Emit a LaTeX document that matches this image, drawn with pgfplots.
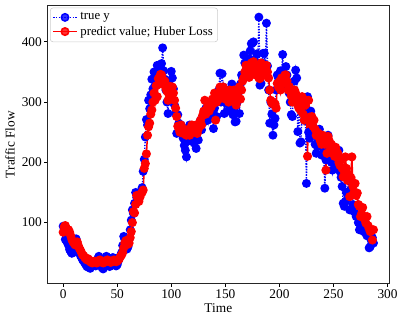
\documentclass[border=0pt]{standalone}
\usepackage{fontspec}
\setmainfont{Liberation Serif}
\usepackage{pgfplots}
\usepackage{pgfplotstable}
\pgfplotsset{compat=1.18}
\usetikzlibrary{calc}
\pgfplotstableread{
t y p
0 94 84
1 84 93
2 72 95
3 70 90
4 66 86
5 62 88
6 55 84
7 52 78
8 49 72
9 50 68
10 58 66
11 66 63
12 73 65
13 62 68
14 55 62
15 50 57
16 45 54
17 42 50
18 38 46
19 36 45
20 33 42
21 30 40
22 27 38
23 26 40
24 28 38
25 24 35
26 27 34
27 30 33
28 33 35
29 29 36
30 28 35
31 32 33
32 40 34
33 44 37
34 36 38
35 30 36
36 25 34
37 23 33
38 28 34
39 35 35
40 44 37
41 38 38
42 32 36
43 27 35
44 30 34
45 36 35
46 42 36
47 35 38
48 30 37
49 28 35
50 30 36
51 36 38
52 42 40
53 45 44
54 50 46
55 62 50
56 77 58
57 72 66
58 65 70
59 56 68
60 60 64
61 72 66
62 88 75
63 104 85
64 121 100
65 115 118
66 132 116
67 150 130
68 142 145
69 135 140
70 145 135
71 148 142
72 152 148
73 158 150
74 185 154
75 205 190
76 242 198
77 271 214
78 262 245
79 303 259
80 289 265
81 312 280
82 338 287
83 322 300
84 350 315
85 335 303
86 342 327
87 361 309
88 330 339
89 359 330
90 345 346
91 364 345
92 390 338
93 352 330
94 338 335
95 320 323
96 300 318
97 281 303
98 330 312
99 325 326
100 351 322
101 340 325
102 322 315
103 295 303
104 282 290
105 248 276
106 279 260
107 265 256
108 258 250
109 262 262
110 254 255
111 240 248
112 228 250
113 220 254
114 209 245
115 235 254
116 250 250
117 262 245
118 240 255
119 248 262
120 255 250
121 232 258
122 245 252
123 223 262
124 238 248
125 237 255
126 262 265
127 270 270
128 254 262
129 265 278
130 275 285
131 268 303
132 290 280
133 282 290
134 270 295
135 295 285
136 288 300
137 300 292
138 278 305
139 256 298
140 290 315
141 305 270
142 276 300
143 312 310
144 320 305
145 348 325
146 300 320
147 347 312
148 325 325
149 281 310
150 310 305
151 298 318
152 285 310
153 320 300
154 305 320
155 295 315
156 330 305
157 279 312
158 290 320
159 267 300
160 268 295
161 300 310
162 315 318
163 281 325
164 330 305
165 345 320
166 340 335
167 378 340
168 365 350
169 352 361
170 360 352
171 345 345
172 372 341
173 385 355
174 397 365
175 398 360
176 400 367
177 370 350
178 355 345
179 380 358
180 362 348
181 441 340
182 328 339
183 331 365
184 365 350
185 381 361
186 381 345
187 350 355
188 431 361
189 360 350
190 320 340
191 265 320
192 300 303
193 280 298
194 245 300
195 262 296
196 273 297
197 320 290
198 345 331
199 340 325
200 330 334
201 352 320
202 350 340
203 379 330
204 340 333
205 325 345
206 359 345
207 345 335
208 330 320
209 315 326
210 300 318
211 279 310
212 276 300
213 320 305
214 335 320
215 353 315
216 340 305
217 251 295
218 300 290
219 232 300
220 234 285
221 290 309
222 305 280
223 270 270
224 280 295
225 165 303
226 309 210
227 250 303
228 240 275
229 285 265
230 270 276
231 260 260
232 245 270
233 230 255
234 215 245
235 226 250
236 240 248
237 255 240
238 230 235
239 212 230
240 225 245
241 218 243
242 157 230
243 204 187
244 218 215
245 245 243
246 225 236
247 210 225
248 200 230
249 187 221
250 215 215
251 225 210
252 205 225
253 198 218
254 190 215
255 220 200
256 185 195
257 175 205
258 160 190
259 132 176
260 127 185
261 135 209
262 150 190
263 140 170
264 170 180
265 121 143
266 155 175
267 145 209
268 130 160
269 118 150
270 125 165
271 110 145
272 112 149
273 100 130
274 88 127
275 95 110
276 105 115
277 92 125
278 85 110
279 100 105
280 82 99
281 78 110
282 85 95
283 58 90
284 60 85
285 70 88
286 75 71
287 66 88
}\data
\begin{document}
\fontsize{9.6}{11.5}\selectfont
\begin{tikzpicture}
\begin{axis}[
  scale only axis,
  width=245.7pt, height=199.9pt,
  xmin=-14.35, xmax=301.35,
  ymin=-1, ymax=460,
  xtick={0,50,100,150,200,250,300},
  ytick={100,200,300,400},
  tick align=outside,
  xtick pos=bottom, ytick pos=left,
  major tick length=2.5pt,
  axis line style={black!85, line width=0.6pt},
  every tick/.style={black, line width=0.6pt},
  /pgf/number format/assume math mode=true,
  ticklabel style={font=\fontsize{9.6}{11.5}\selectfont},
  xticklabel style={inner ysep=2pt},
  yticklabel style={inner xsep=1.5pt},
  xlabel={Time},
  ylabel={Traffic Flow},
  xlabel style={at={(axis description cs:0.5,-0.089)}, anchor=center, font=\fontsize{9.6}{11.5}\selectfont},
  ylabel style={at={(axis description cs:-0.1105,0.5)}, anchor=center, font=\fontsize{9.6}{11.5}\selectfont},
  legend style={at={(0,1)}, anchor=north west, xshift=1.7pt, yshift=-1.4pt,
    draw=black!20, rounded corners=2pt, fill=white, fill opacity=0.8, text opacity=1,
    font=\fontsize{9.2}{10.5}\selectfont, inner sep=1.5pt, row sep=-1pt,
    /tikz/every even column/.append style={column sep=2pt}},
  legend cell align=left,
]
\addplot[blue, densely dotted, line width=1pt, mark=*, mark size=2.7pt, mark options={solid, fill=blue, draw=blue}]
  table[x=t, y=y] {\data};
\addlegendentry{true y}
\addplot[red, solid, line width=1.1pt, mark=*, mark size=2.7pt, mark options={solid, fill=red, draw=red}]
  table[x=t, y=p] {\data};
\addlegendentry{predict value; Huber Loss}
\end{axis}
\pgfresetboundingbox
\path ($(current axis.south west)+(-34.3pt,-24.3pt)$) rectangle ($(current axis.north east)+(7.2pt,4.1pt)$);
\end{tikzpicture}
\end{document}
